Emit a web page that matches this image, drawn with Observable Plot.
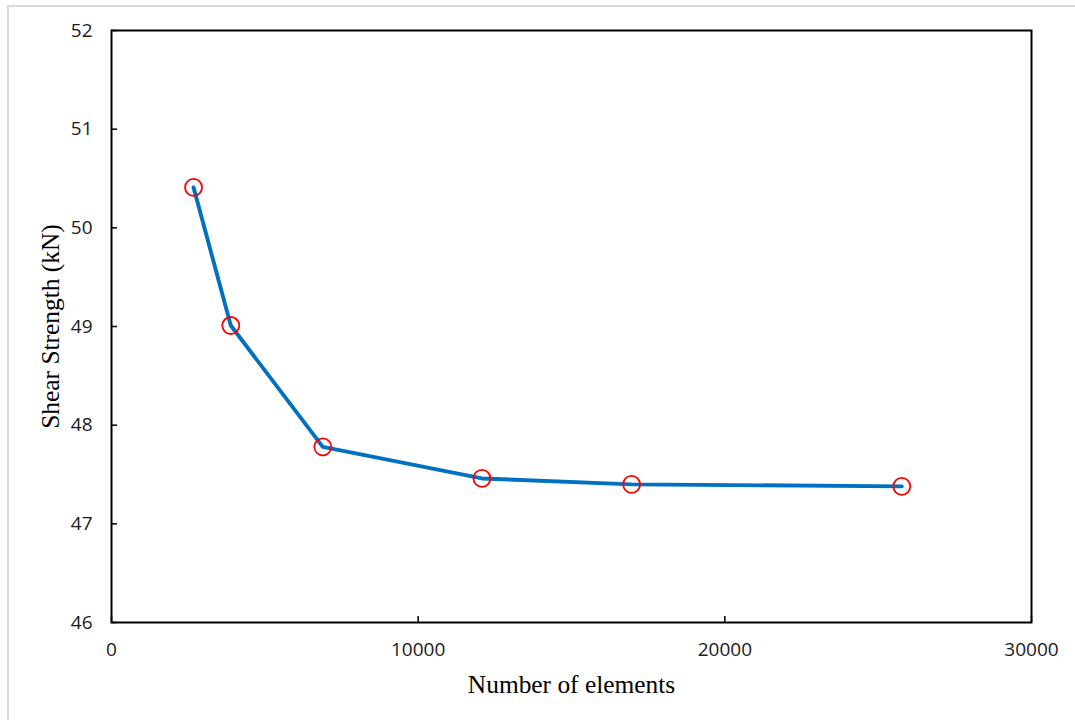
<!DOCTYPE html>
<html>
<head>
<meta charset="utf-8">
<script src="https://cdn.jsdelivr.net/npm/d3@7"></script>
<script src="https://cdn.jsdelivr.net/npm/@observablehq/plot@0.6"></script>
<style>
  html, body { margin: 0; padding: 0; background: #fff; }
  #wrap { position: relative; width: 1075px; height: 720px; overflow: hidden; }
  #border { position: absolute; left: 7px; top: 5px; width: 1100px; height: 760px; border: 2px solid #d9d9d9; box-sizing: border-box; pointer-events: none; }
  #chart { position: absolute; left: 0; top: 0; }
</style>
</head>
<body>
<div id="wrap">
  <div id="chart"></div>
  <div id="border"></div>
</div>
<script>
const elements = [2675, 3890, 6890, 12080, 16960, 25770];
const strength = [50.41, 49.01, 47.78, 47.46, 47.40, 47.38];
const xTicks = [0, 10000, 20000, 30000];
const yTicks = [46, 47, 48, 49, 50, 51, 52];
const xTitle = "Number of elements";
const yTitle = "Shear Strength (kN)";

const data = elements.map((e, i) => ({x: e, y: strength[i]}));

const tickFont = "'Open Sans', 'Liberation Sans', sans-serif";
const titleFont = "'Liberation Serif', 'DejaVu Serif', serif";

const chart = Plot.plot({
  width: 1075,
  height: 720,
  marginLeft: 111,
  marginRight: 44,
  marginTop: 30,
  marginBottom: 98,
  style: {fontFamily: tickFont, fontSize: "19px", color: "#1a1a1a", background: "transparent"},
  x: {domain: [0, 30000]},
  y: {domain: [46, 52]},
  marks: [
    Plot.axisX({ticks: xTicks, tickSize: -6, tickPadding: 26, tickFormat: d => String(d), label: null, fontSize: 19, stroke: "#000", strokeWidth: 1.5}),
    Plot.axisY({ticks: yTicks, tickSize: -6, tickPadding: 25, tickFormat: d => String(d), label: null, fontSize: 19, stroke: "#000", strokeWidth: 1.5}),
    Plot.frame({stroke: "#000", strokeWidth: 2}),
    Plot.line(data, {x: "x", y: "y", stroke: "#0070C0", strokeWidth: 3.9}),
    Plot.dot(data, {x: "x", y: "y", r: 8.5, stroke: "#FF0000", strokeWidth: 1.8, fill: "none"}),
    Plot.text([xTitle], {frameAnchor: "bottom", dy: 62, text: d => d, fontFamily: titleFont, fontSize: 25.4, fill: "#000", textAnchor: "middle", lineAnchor: "middle"}),
    Plot.text([yTitle], {frameAnchor: "left", dx: -61, rotate: -90, text: d => d, fontFamily: titleFont, fontSize: 25.4, fill: "#000", textAnchor: "middle", lineAnchor: "middle"})
  ]
});
document.getElementById("chart").appendChild(chart);
</script>
</body>
</html>
